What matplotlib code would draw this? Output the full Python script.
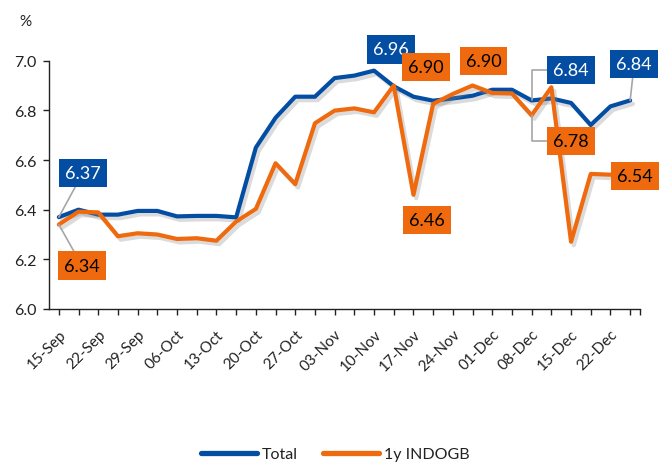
import matplotlib
matplotlib.use("Agg")
import matplotlib.pyplot as plt
import matplotlib.patheffects as pe
import numpy as np

plt.rcParams['font.family'] = ['Lato', 'DejaVu Sans']

# ---- data ----
total = [6.37, 6.40, 6.38, 6.38, 6.395, 6.395, 6.373, 6.375, 6.375, 6.369,
         6.65, 6.77, 6.855, 6.855, 6.93, 6.94, 6.96, 6.897, 6.855, 6.839,
         6.848, 6.859, 6.883, 6.883, 6.84, 6.848, 6.83, 6.741, 6.816, 6.84]
indogb = [6.34, 6.392, 6.389, 6.293, 6.305, 6.30, 6.282, 6.285, 6.275, 6.352,
          6.403, 6.587, 6.503, 6.748, 6.799, 6.808, 6.792, 6.90, 6.46, 6.826,
          6.866, 6.90, 6.87, 6.868, 6.78, 6.893, 6.271, 6.544, 6.541, 6.54]
tick_labels = ['15-Sep', '22-Sep', '29-Sep', '06-Oct', '13-Oct', '20-Oct', '27-Oct',
               '03-Nov', '10-Nov', '17-Nov', '24-Nov', '01-Dec', '08-Dec', '15-Dec', '22-Dec']
series_names = ['Total', '1y INDOGB']

BLUE = '#034EA2'
ORANGE = '#EF6A0E'

fig = plt.figure(figsize=(6.71, 4.64), dpi=100)
ax = fig.add_axes([49/671, 1-310/464, (640-49)/671, (310-61.7)/464])

x = np.arange(len(total))
shadow = [pe.SimpleLineShadow(offset=(2, -2.5), shadow_color='#888888', alpha=0.3),
          pe.Normal()]
ax.plot(x, total, color=BLUE, lw=3.0, label=series_names[0],
        solid_joinstyle='round', solid_capstyle='round', path_effects=shadow, zorder=3)
ax.plot(x, indogb, color=ORANGE, lw=3.0, label=series_names[1],
        solid_joinstyle='round', solid_capstyle='round', path_effects=shadow, zorder=4)

ax.set_xlim(-0.5, len(total) - 0.5)
ax.set_ylim(6.0, 7.0)
ax.set_yticks(np.arange(6.0, 7.01, 0.2))
ax.set_yticklabels([f'{v:.1f}' for v in np.arange(6.0, 7.01, 0.2)], fontsize=11.5)
ax.set_xticks(x[::2])
ax.set_xticklabels(tick_labels, rotation=45, ha='right', rotation_mode='anchor', fontsize=11)
ax.set_xticks(list(x[1::2]) + [len(total) - 0.5], minor=True)
ax.tick_params(axis='x', which='both', length=4, width=1, direction='out', pad=9, colors='#222222')
ax.tick_params(axis='y', length=4, width=1, direction='out', pad=5, colors='#222222')
for lab in ax.get_xticklabels() + ax.get_yticklabels():
    lab.set_color('#222222')
for s in ['top', 'right']:
    ax.spines[s].set_visible(False)
for s in ['left', 'bottom']:
    ax.spines[s].set_color('#222222')
    ax.spines[s].set_linewidth(1)

fig.text(25/671, 1-22/464, '%', fontsize=11, ha='center', va='center', color='#222222')

# ---- data labels ----
def label(i, series, color, tcolor, dx, dy, relpos=(0.5, 0.5), conn='arc3', leader=True):
    kw = dict(xy=(i, series[i]), xytext=(dx, dy), textcoords='offset points',
              ha='center', va='center', fontsize=13, color=tcolor, zorder=10,
              annotation_clip=False,
              bbox=dict(boxstyle='square,pad=0.34', fc=color, ec='none'))
    if leader:
        kw['arrowprops'] = dict(arrowstyle='-', color='#A6A6A6', lw=1.2,
                                shrinkA=0, shrinkB=0, relpos=relpos,
                                connectionstyle=conn)
    return ax.annotate(f'{series[i]:.2f}', **kw)

label(0, total, BLUE, 'white', 17.3, 31.9)
label(0, indogb, ORANGE, 'black', 16.6, -29.5)
label(16, total, BLUE, 'white', 12.2, 15.3, leader=False)
label(17, indogb, ORANGE, 'black', 23.4, 13.3, leader=False)
label(18, indogb, ORANGE, 'black', 10.0, -18.4, leader=False)
label(21, indogb, ORANGE, 'black', 7.9, 17.6, leader=False)
label(24, total, BLUE, 'white', 28.4, 21.8, relpos=(0, 0.5),
      conn='angle,angleA=0,angleB=90,rad=0')
label(24, indogb, ORANGE, 'black', 28.4, -18.7, relpos=(0, 0.5),
      conn='angle,angleA=0,angleB=90,rad=0')
label(29, total, BLUE, 'white', 2.9, 26.3)
label(29, indogb, ORANGE, 'black', 3.2, -1.0, leader=False)

leg = fig.legend(loc='center', bbox_to_anchor=(0.5, 1-455/464), ncol=2, frameon=False,
                 fontsize=11.5, handlelength=3.5, columnspacing=1.6, handletextpad=0.3)
for h in leg.legend_handles:
    h.set_linewidth(3.8)
    h.set_solid_capstyle('round')
    h.set_path_effects([])
for t in leg.get_texts():
    t.set_color('#222222')

fig.savefig('out.png', dpi=100)
